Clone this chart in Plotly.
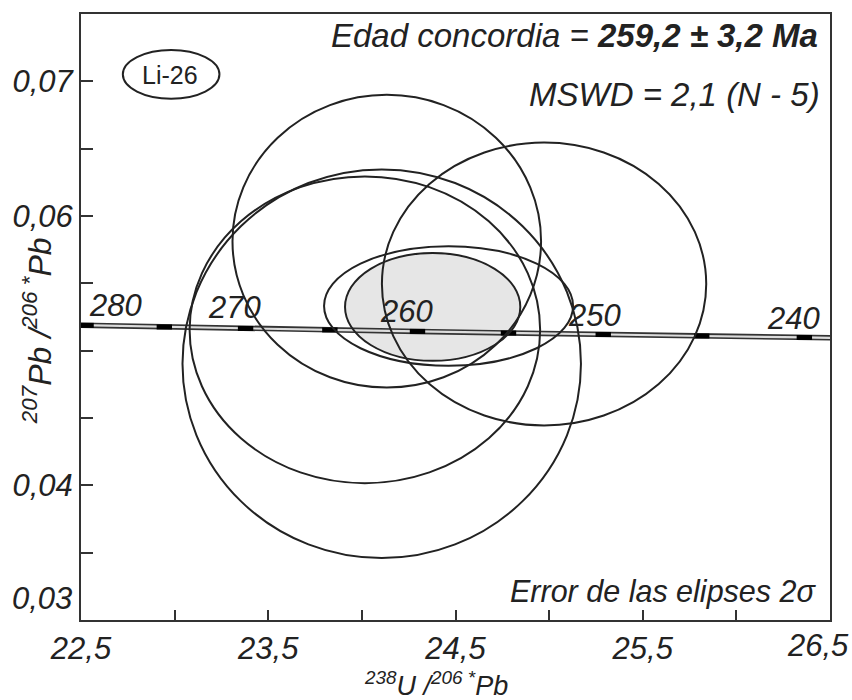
import plotly.graph_objects as go

# ---- data ----
# concordia age markers (Ma) and their ratios
conc_ages = [282, 280, 275, 270, 265, 260, 255, 250, 245, 240, 238]
conc_u238_pb206 = [22.363, 22.527, 22.945, 23.379, 23.829, 24.297, 24.783, 25.289, 25.815, 26.363, 26.589]
conc_pb207_pb206 = [0.05193, 0.05188, 0.05176, 0.05165, 0.05154, 0.05143, 0.05131, 0.05120, 0.05109, 0.05098, 0.05094]
marker_ages = [280, 275, 270, 265, 260, 255, 250, 245, 240]
label_ages = [280, 270, 260, 250, 240]

# analysis error ellipses (2 sigma): centre and half-axes
ell_x = [24.133, 24.973, 24.106, 24.016, 24.463]
ell_y = [0.05813, 0.05495, 0.04903, 0.05155, 0.05332]
ell_sx = [0.824, 0.866, 1.064, 0.936, 0.665]
ell_sy = [0.01087, 0.01050, 0.01443, 0.01139, 0.00444]

# concordia age ellipse
mean_x = 24.378
mean_y = 0.05325
mean_sx = 0.468
mean_sy = 0.0040

x_ticks = [22.5, 23.0, 23.5, 24.0, 24.5, 25.0, 25.5, 26.0, 26.5]
x_ticktext = ["22,5", "", "23,5", "", "24,5", "", "25,5", "", ""]
y_ticks = [0.035, 0.04, 0.045, 0.05, 0.055, 0.06, 0.065, 0.07]
y_ticktext = ["", "0,04", "", "", "", "0,06", "", "0,07"]

FONT = "Liberation Sans"
INK = "#222222"

# plot-area geometry in window pixels
PX_L, PX_R, PX_T, PX_B = 78, 830, 12, 620
FIG_W, FIG_H = 852, 700


def px(xw):
    return (xw - PX_L) / (PX_R - PX_L)


def py(yw):
    return (PX_B - yw) / (PX_B - PX_T)


fig = go.Figure()

# concordia band
fig.add_trace(go.Scatter(x=conc_u238_pb206, y=conc_pb207_pb206, mode="lines",
                         line=dict(color="#333333", width=5.5), hoverinfo="skip", showlegend=False))
fig.add_trace(go.Scatter(x=conc_u238_pb206, y=conc_pb207_pb206, mode="lines",
                         line=dict(color="#dcdcdc", width=2.2), hoverinfo="skip", showlegend=False))
mk_x = [conc_u238_pb206[conc_ages.index(a)] for a in marker_ages]
mk_y = [conc_pb207_pb206[conc_ages.index(a)] for a in marker_ages]
fig.add_trace(go.Scatter(x=mk_x, y=mk_y, mode="markers",
                         marker=dict(symbol="line-ew", size=11, line=dict(color="#000000", width=5)),
                         hoverinfo="skip", showlegend=False))

shapes = []
# filled concordia age ellipse (fill below traces)
shapes.append(dict(type="circle", xref="x", yref="y", layer="below",
                   x0=mean_x - mean_sx, x1=mean_x + mean_sx,
                   y0=mean_y - mean_sy, y1=mean_y + mean_sy,
                   fillcolor="#e6e6e6", line=dict(width=0)))
for cx, cy, sx, sy in zip(ell_x, ell_y, ell_sx, ell_sy):
    shapes.append(dict(type="circle", xref="x", yref="y", layer="above",
                       x0=cx - sx, x1=cx + sx, y0=cy - sy, y1=cy + sy,
                       line=dict(color=INK, width=2)))
shapes.append(dict(type="circle", xref="x", yref="y", layer="above",
                   x0=mean_x - mean_sx, x1=mean_x + mean_sx,
                   y0=mean_y - mean_sy, y1=mean_y + mean_sy,
                   line=dict(color=INK, width=2)))
# sample label ellipse
shapes.append(dict(type="circle", xref="paper", yref="paper",
                   x0=px(120), x1=px(217), y0=py(97), y1=py(48),
                   line=dict(color=INK, width=2)))

ann = []
label_shift = {280: (29, 20), 270: (-11, 21), 260: (-11, 20), 250: (-9, 19), 240: (-11, 19)}
for a in label_ages:
    i = conc_ages.index(a)
    dx, dy = label_shift[a]
    ann.append(dict(x=conc_u238_pb206[i], y=conc_pb207_pb206[i], xref="x", yref="y",
                    text=str(a), showarrow=False, xanchor="center", yanchor="middle",
                    xshift=dx, yshift=dy,
                    font=dict(family=FONT, size=31, color=INK, style="italic")))

ann.append(dict(x=px(820), y=py(34), xref="paper", yref="paper", xanchor="right", yanchor="middle",
                text="Edad concordia = <b>259,2 ± 3,2 Ma</b>", showarrow=False,
                font=dict(family=FONT, size=33, color=INK, style="italic")))
ann.append(dict(x=px(822), y=py(93), xref="paper", yref="paper", xanchor="right", yanchor="middle",
                text="MSWD = 2,1 (N - 5)", showarrow=False,
                font=dict(family=FONT, size=33, color=INK, style="italic")))
ann.append(dict(x=px(818), y=py(591), xref="paper", yref="paper", xanchor="right", yanchor="middle",
                text="Error de las elipses 2σ", showarrow=False,
                font=dict(family=FONT, size=30.5, color=INK, style="italic")))
ann.append(dict(x=px(167), y=py(73), xref="paper", yref="paper", xanchor="center", yanchor="middle",
                text="Li-26", showarrow=False,
                font=dict(family=FONT, size=25, color=INK)))
ann.append(dict(x=px(71), y=py(598), xref="paper", yref="paper", xanchor="right", yanchor="middle",
                text="0,03", showarrow=False,
                font=dict(family=FONT, size=31, color=INK, style="italic")))
# last x tick label sits left of its tick in the reference
ann.append(dict(x=px(818), y=py(646), xref="paper", yref="paper", xanchor="center", yanchor="middle",
                text="26,5", showarrow=False,
                font=dict(family=FONT, size=31, color=INK, style="italic")))
ann.append(dict(x=px(34), y=py(330), xref="paper", yref="paper",
                xanchor="center", yanchor="middle", textangle=-90,
                text="<sup>207</sup>Pb /<sup>206 *</sup>Pb", showarrow=False,
                font=dict(family=FONT, size=32, color=INK, style="italic")))
ann.append(dict(x=px(434), y=py(684), xref="paper", yref="paper",
                xanchor="center", yanchor="middle",
                text="<sup>238</sup>U /<sup>206 *</sup>Pb", showarrow=False,
                font=dict(family=FONT, size=27, color=INK, style="italic")))

fig.update_layout(width=FIG_W, height=FIG_H,
                  margin=dict(l=PX_L, r=FIG_W - PX_R, t=PX_T, b=FIG_H - PX_B),
                  paper_bgcolor="white", plot_bgcolor="white",
                  shapes=shapes, annotations=ann, showlegend=False)
fig.update_xaxes(range=[22.5, 26.5], tickvals=x_ticks, ticktext=x_ticktext,
                 ticks="inside", ticklen=10, tickwidth=2, tickcolor="#333333",
                 showline=True, linewidth=2, linecolor="#333333", mirror=True,
                 showgrid=False, zeroline=False, ticklabelstandoff=0,
                 tickfont=dict(family=FONT, size=31, color=INK, style="italic"))
fig.update_yaxes(range=[0.03, 0.075], tickvals=y_ticks, ticktext=y_ticktext,
                 ticks="inside", ticklen=12, tickwidth=2, tickcolor="#333333",
                 showline=True, linewidth=2, linecolor="#333333", mirror=True,
                 showgrid=False, zeroline=False, ticklabelstandoff=0,
                 tickfont=dict(family=FONT, size=31, color=INK, style="italic"))

# remove the page's default body margin so the 852x700 figure fills the window exactly
fig.write_html("out.html", config={"displayModeBar": False},
               post_script="document.body.style.margin='0';document.documentElement.style.overflow='hidden';")
